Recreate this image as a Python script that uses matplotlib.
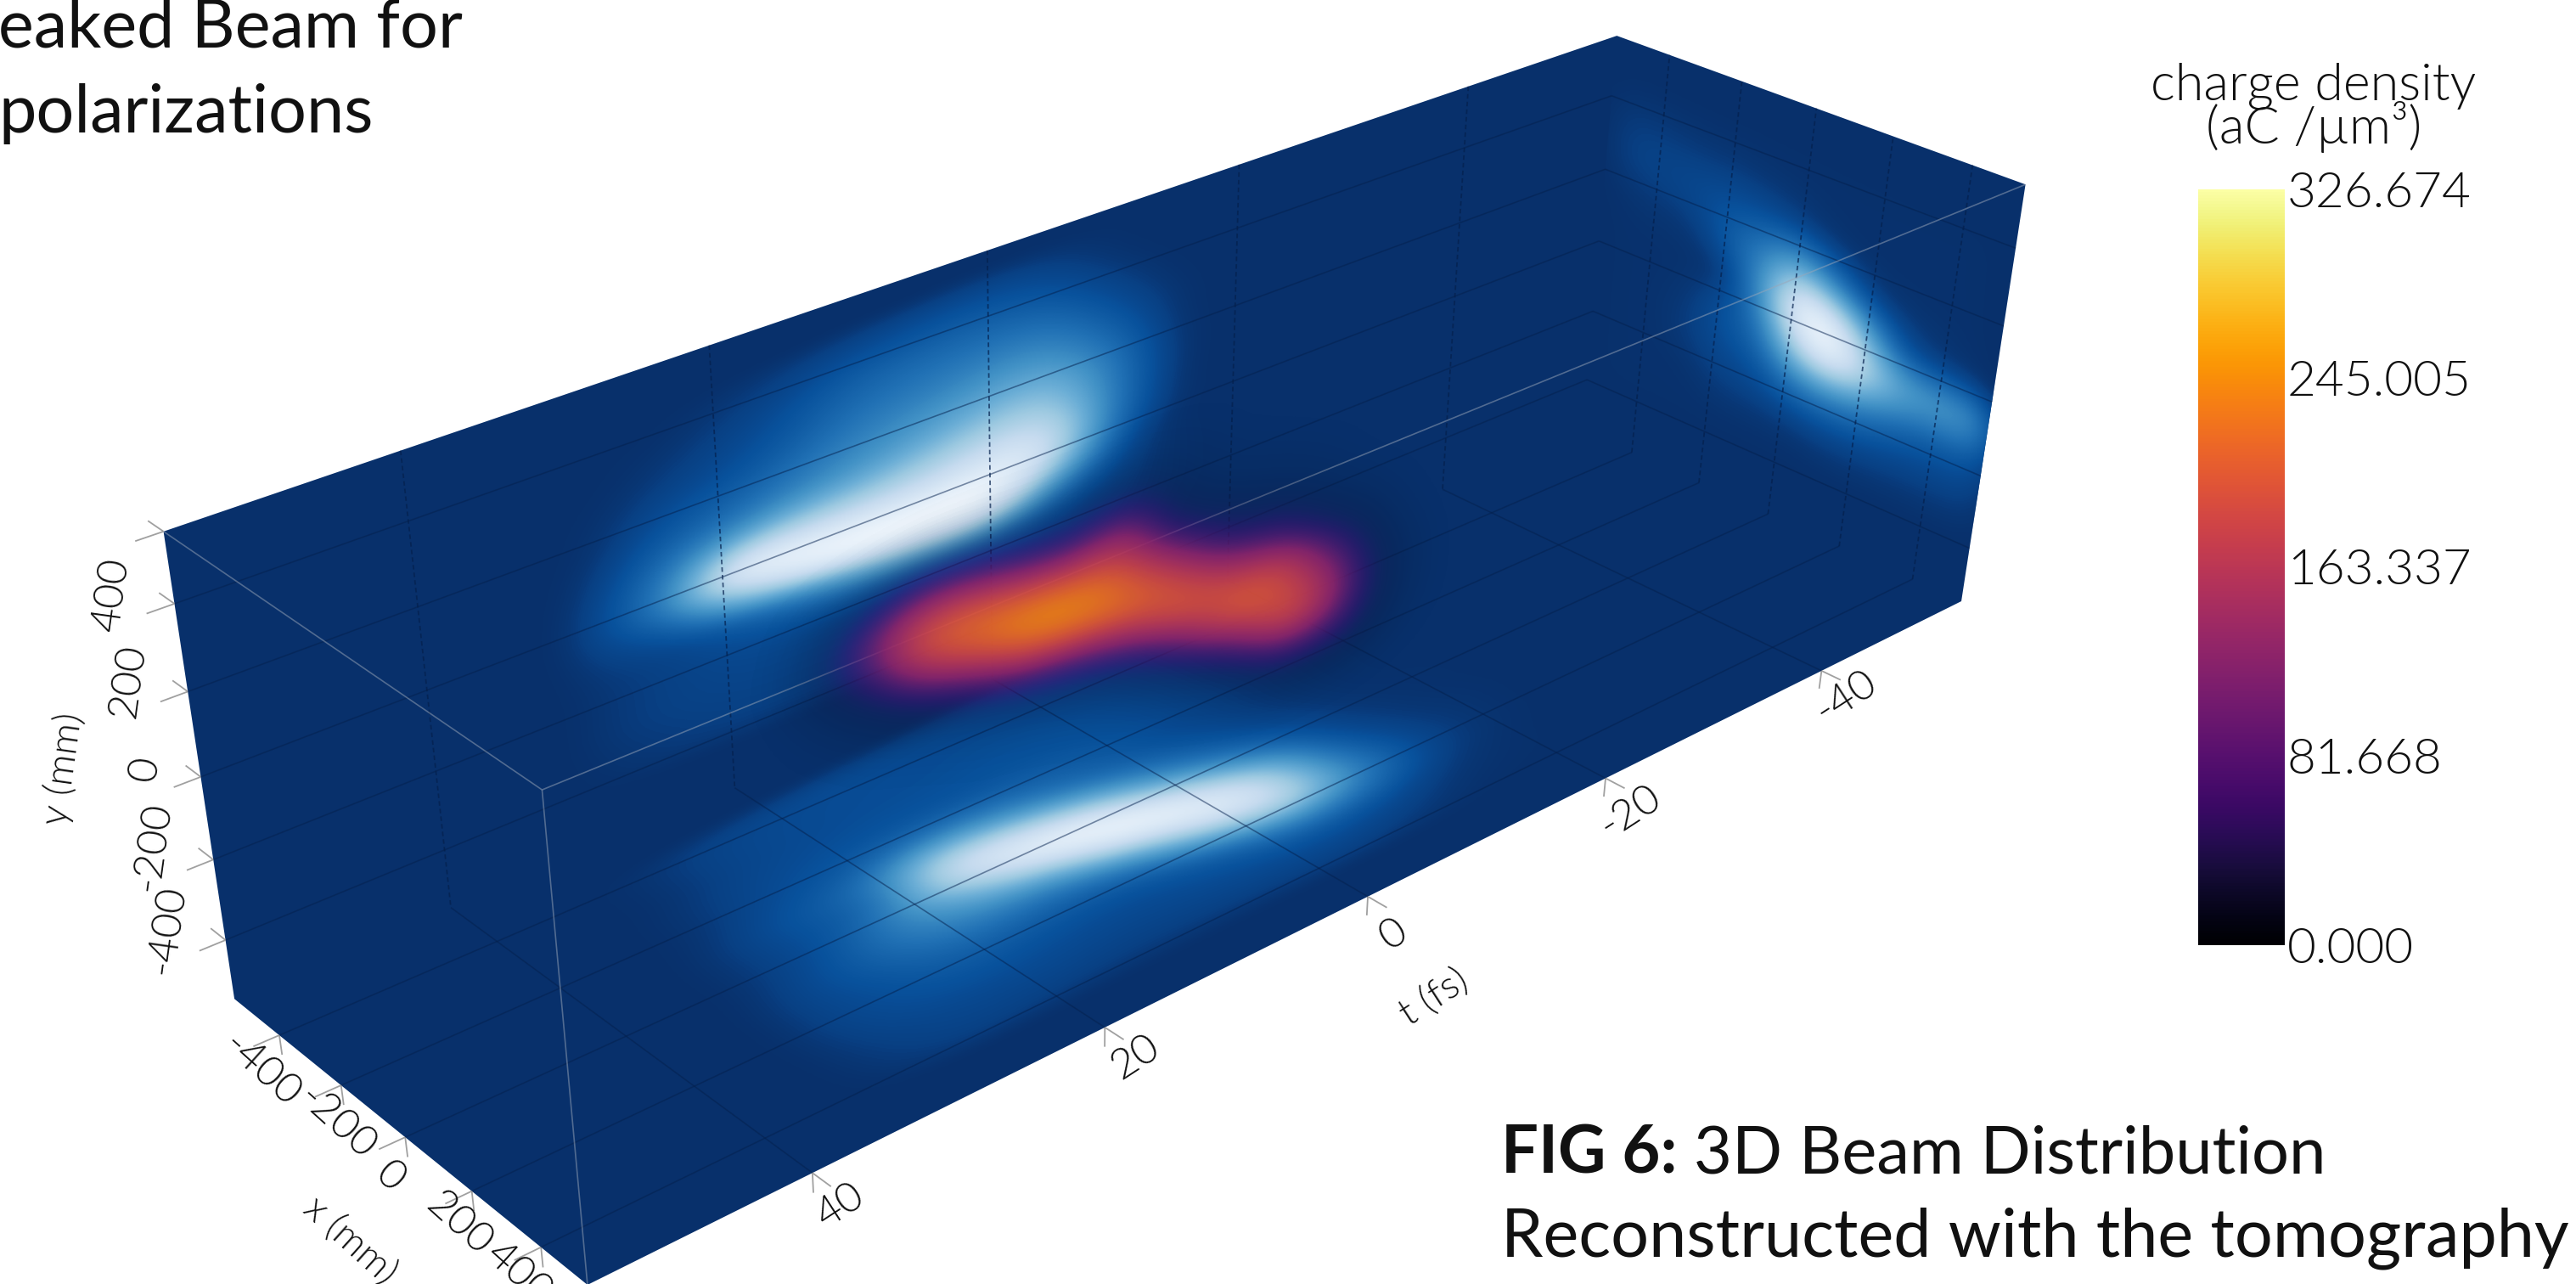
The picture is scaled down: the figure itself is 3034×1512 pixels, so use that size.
import numpy as np
import matplotlib
matplotlib.use("Agg")
import matplotlib.pyplot as plt
from matplotlib.colors import ListedColormap, Normalize
from matplotlib.cm import ScalarMappable
from matplotlib.patches import Polygon
from matplotlib.transforms import Affine2D

plt.rcParams['font.family'] = ['Lato', 'DejaVu Sans']

# axis bounds of the box and where its 8 corners land in the picture
t_near, t_far = 54, -54
x_back, x_front = -550, 530
y_top, y_bot = 560, -550
box_corners = [(t_near, x_back, y_top), (t_near, x_back, y_bot), (t_near, x_front, y_bot), (t_near, x_front, y_top),
               (t_far, x_back, y_top), (t_far, x_front, y_top), (t_far, x_front, y_bot), (t_far, x_back, y_bot)]
box_pixels = [(191, 625), (278, 1178), (690, 1512), (640, 930),
              (1905, 43), (2385, 217), (2311, 709), (1863, 505)]

t_ticks = [40, 20, 0, -20, -40]
x_ticks = [-400, -200, 0, 200, 400]
y_ticks = [400, 200, 0, -200, -400]

# charge projected on the back wall, 0 dark .. 1 white
back_t = [27, 22, 17, 12, 7, 2, -3, -8, -13, -18]
back_y = [400, 350, 300, 250, 200, 150, 100, 50, 0, -50, -100, -150, -200, -250, -300, -350, -400]
back_z = [[0.00, 0.01, 0.03, 0.05, 0.07, 0.08, 0.08, 0.06, 0.02, 0.00],
          [0.01, 0.02, 0.05, 0.08, 0.12, 0.13, 0.14, 0.11, 0.04, 0.00],
          [0.01, 0.04, 0.07, 0.11, 0.18, 0.20, 0.20, 0.17, 0.07, 0.01],
          [0.02, 0.06, 0.09, 0.14, 0.22, 0.25, 0.26, 0.25, 0.11, 0.02],
          [0.03, 0.09, 0.12, 0.18, 0.27, 0.30, 0.33, 0.34, 0.16, 0.03],
          [0.04, 0.13, 0.17, 0.24, 0.32, 0.37, 0.42, 0.44, 0.22, 0.03],
          [0.06, 0.18, 0.24, 0.32, 0.38, 0.45, 0.52, 0.55, 0.27, 0.03],
          [0.08, 0.25, 0.42, 0.50, 0.52, 0.58, 0.65, 0.66, 0.28, 0.03],
          [0.10, 0.30, 0.78, 0.76, 0.72, 0.72, 0.78, 0.78, 0.26, 0.02],
          [0.10, 0.30, 0.92, 0.95, 0.92, 0.88, 0.92, 0.82, 0.20, 0.02],
          [0.08, 0.16, 0.55, 0.85, 1.00, 1.00, 1.00, 0.65, 0.12, 0.01],
          [0.06, 0.08, 0.18, 0.32, 0.55, 0.72, 0.80, 0.30, 0.08, 0.02],
          [0.05, 0.07, 0.11, 0.14, 0.20, 0.24, 0.28, 0.13, 0.07, 0.02],
          [0.05, 0.07, 0.09, 0.09, 0.09, 0.10, 0.11, 0.09, 0.06, 0.02],
          [0.05, 0.07, 0.08, 0.08, 0.08, 0.08, 0.08, 0.07, 0.05, 0.01],
          [0.04, 0.06, 0.07, 0.07, 0.07, 0.07, 0.07, 0.06, 0.03, 0.01],
          [0.03, 0.05, 0.06, 0.06, 0.06, 0.06, 0.05, 0.04, 0.02, 0.00]]

# projected on the floor
floor_t = [30, 25, 20, 15, 10, 5, 0, -5, -10, -15, -20]
floor_x = [-400, -350, -300, -250, -200, -150, -100, -50, 0, 50, 100, 150, 200, 250, 300, 350, 400]
floor_z = [[0.03, 0.07, 0.09, 0.10, 0.10, 0.11, 0.10, 0.08, 0.04, 0.02, 0.00],
           [0.03, 0.08, 0.10, 0.11, 0.11, 0.11, 0.10, 0.08, 0.04, 0.02, 0.00],
           [0.03, 0.08, 0.10, 0.11, 0.11, 0.12, 0.11, 0.08, 0.04, 0.02, 0.01],
           [0.04, 0.09, 0.11, 0.12, 0.12, 0.13, 0.12, 0.09, 0.04, 0.02, 0.01],
           [0.04, 0.10, 0.13, 0.15, 0.14, 0.14, 0.13, 0.10, 0.04, 0.02, 0.01],
           [0.05, 0.12, 0.17, 0.28, 0.24, 0.18, 0.15, 0.10, 0.05, 0.02, 0.01],
           [0.06, 0.14, 0.22, 0.58, 0.45, 0.26, 0.16, 0.10, 0.05, 0.02, 0.01],
           [0.06, 0.13, 0.22, 0.78, 0.78, 0.52, 0.25, 0.13, 0.05, 0.02, 0.01],
           [0.06, 0.13, 0.30, 0.72, 0.92, 0.88, 0.46, 0.20, 0.07, 0.02, 0.01],
           [0.07, 0.15, 0.32, 0.50, 0.80, 1.00, 0.82, 0.40, 0.10, 0.03, 0.02],
           [0.08, 0.15, 0.28, 0.35, 0.45, 0.85, 0.95, 0.72, 0.15, 0.04, 0.02],
           [0.08, 0.13, 0.22, 0.24, 0.24, 0.45, 0.85, 0.85, 0.24, 0.05, 0.03],
           [0.08, 0.12, 0.17, 0.16, 0.15, 0.20, 0.48, 0.78, 0.31, 0.07, 0.03],
           [0.07, 0.11, 0.13, 0.12, 0.11, 0.12, 0.20, 0.42, 0.27, 0.07, 0.03],
           [0.06, 0.09, 0.10, 0.10, 0.09, 0.10, 0.12, 0.18, 0.14, 0.05, 0.02],
           [0.05, 0.08, 0.08, 0.08, 0.07, 0.08, 0.09, 0.10, 0.08, 0.03, 0.02],
           [0.03, 0.06, 0.06, 0.05, 0.05, 0.05, 0.06, 0.07, 0.05, 0.02, 0.01]]

# projected on the far end wall
end_x = [-500, -400, -300, -200, -100, 0, 100, 200, 300, 400, 500]
end_y = [450, 350, 250, 150, 50, -50, -150, -250, -350]
end_z = [[0.02, 0.02, 0.02, 0.02, 0.02, 0.02, 0.02, 0.02, 0.02, 0.02, 0.02],
         [0.06, 0.06, 0.05, 0.05, 0.04, 0.03, 0.02, 0.02, 0.02, 0.02, 0.02],
         [0.07, 0.08, 0.10, 0.12, 0.12, 0.09, 0.04, 0.02, 0.02, 0.02, 0.02],
         [0.03, 0.04, 0.05, 0.18, 0.32, 0.55, 0.30, 0.08, 0.04, 0.03, 0.02],
         [0.02, 0.02, 0.02, 0.02, 0.38, 1.00, 0.95, 0.50, 0.12, 0.06, 0.04],
         [0.02, 0.02, 0.04, 0.14, 0.24, 0.75, 1.00, 0.75, 0.50, 0.45, 0.45],
         [0.02, 0.02, 0.06, 0.10, 0.14, 0.30, 0.35, 0.28, 0.20, 0.16, 0.16],
         [0.02, 0.02, 0.02, 0.06, 0.06, 0.07, 0.09, 0.09, 0.08, 0.08, 0.08],
         [0.02, 0.02, 0.02, 0.02, 0.02, 0.02, 0.03, 0.03, 0.03, 0.03, 0.03]]

# the beam itself, charge density at x=0
beam_t = [25, 21, 17, 13, 9, 5, 1, -3, -7, -11, -15, -19]
beam_y = [310, 245, 180, 115, 50, -15, -80, -145, -210, -275, -340, -405, -470]
beam_z = [[2, 5, 8, 6, 4, 3, 3, 2, 1, 0, 0, 0],
          [8, 18, 30, 22, 15, 12, 15, 8, 2, 0, 0, 0],
          [18, 60, 100, 80, 50, 40, 55, 18, 5, 2, 0, 0],
          [30, 110, 175, 170, 125, 100, 125, 30, 10, 6, 2, 0],
          [22, 100, 200, 225, 215, 190, 175, 70, 30, 15, 5, 0],
          [10, 55, 145, 205, 250, 250, 215, 140, 60, 45, 12, 2],
          [4, 20, 65, 120, 190, 215, 225, 200, 130, 100, 35, 5],
          [1, 6, 20, 45, 85, 110, 150, 210, 195, 180, 85, 10],
          [0, 2, 5, 12, 25, 40, 60, 125, 210, 205, 130, 18],
          [0, 0, 1, 3, 6, 10, 20, 50, 115, 205, 135, 20],
          [0, 0, 0, 1, 1, 3, 6, 15, 40, 115, 95, 14],
          [0, 0, 0, 0, 0, 1, 1, 4, 10, 35, 35, 6],
          [0, 0, 0, 0, 0, 0, 0, 1, 2, 6, 6, 1]]

cbar_ticks = [0.000, 81.668, 163.337, 245.005, 326.674]


# projective camera fitted on the corners
def fit_camera(points, pixels):
    rows, rhs = [], []
    for (t, x, y), (u, v) in zip(points, pixels):
        p = [t / 54, x / 550, y / 550, 1]
        rows.append(p + [0, 0, 0, 0] + [-u * c for c in p[:3]])
        rows.append([0, 0, 0, 0] + p + [-v * c for c in p[:3]])
        rhs += [u, v]
    sol = np.linalg.lstsq(np.array(rows, float), np.array(rhs, float), rcond=None)[0]
    return np.append(sol, 1).reshape(3, 4)


camera = fit_camera(box_corners, box_pixels)


def project(t, x, y):
    q = camera @ np.array([t / 54, x / 550, y / 550, 1])
    return q[:2] / q[2]


def alpha_cmap(name, full, top=1.0):
    colors = plt.get_cmap(name)(np.linspace(0, 1, 256))
    colors[:, 3] = np.clip(np.linspace(0, 1, 256) / full, 0, 1) * top
    return ListedColormap(colors)


def draw_field(ax, z, u, v, to_3d, clip, cmap, norm, zorder):
    # z[row, col] with col along u and row along v; padded so the frame edge is invisible
    z = np.pad(np.array(z, float)[::-1], 1)
    du, dv = u[1] - u[0], v[1] - v[0]
    u0, u1 = u[0] - 1.5 * du, u[-1] + 1.5 * du
    v0, v1 = v[-1] + 1.5 * dv, v[0] - 1.5 * dv
    p0, pu, pv = to_3d(u0, v0), to_3d(u1, v0), to_3d(u0, v1)
    im = ax.imshow(z, extent=[0, 1, 0, 1], origin="lower", cmap=cmap, norm=norm,
                   interpolation="bicubic", interpolation_stage="data", aspect="auto", zorder=zorder)
    a, b = pu - p0, pv - p0
    im.set_transform(Affine2D.from_values(a[0], a[1], b[0], b[1], p0[0], p0[1]) + ax.transData)
    im.set_clip_path(Polygon(clip, transform=ax.transData))


def line3d(ax, a, b, **kw):
    p, q = project(*a), project(*b)
    ax.plot([p[0], q[0]], [p[1], q[1]], solid_capstyle="butt", **kw)


fig = plt.figure(figsize=(30.34, 15.12), dpi=100)
ax = fig.add_axes([0, 0, 1, 1])

A, B, C, D = [project(*c) for c in box_corners[:4]]
E, F, G, H = [project(*c) for c in box_corners[4:]]

ax.add_patch(Polygon([A, E, F, G, C, B], closed=True, fc=plt.get_cmap("Blues_r")(0.0), ec="none", zorder=1))

blues = alpha_cmap("Blues_r", 0.06)
unit = Normalize(0, 1)
draw_field(ax, back_z, back_t, back_y, lambda a, b: project(a, x_back, b), [A, E, H, B], blues, unit, 2)
draw_field(ax, floor_z, floor_t, floor_x, lambda a, b: project(a, b, y_bot), [B, H, G, C], blues, unit, 2)
draw_field(ax, end_z, end_x, end_y, lambda a, b: project(t_far, a, b), [E, F, G, H], blues, unit, 2)

# grid on the three visible walls
dark = dict(color="#04204d", lw=1.2, alpha=0.5, zorder=3)
dash = dict(color="#04204d", lw=1.3, alpha=0.7, zorder=3, dashes=(3, 2))
for t in t_ticks:
    line3d(ax, (t, x_back, y_top), (t, x_back, y_bot), **dash)
    line3d(ax, (t, x_back, y_bot), (t, x_front, y_bot), **dark)
for y in y_ticks:
    line3d(ax, (t_near, x_back, y), (t_far, x_back, y), **dark)
    line3d(ax, (t_far, x_back, y), (t_far, x_front, y), **dark)
for x in x_ticks:
    line3d(ax, (t_near, x, y_bot), (t_far, x, y_bot), **dark)
    line3d(ax, (t_far, x, y_bot), (t_far, x, y_top), **dash)

# front edges of the box
edge = dict(color="#9aa6b8", lw=1.2, alpha=0.5, zorder=4)
line3d(ax, box_corners[0], box_corners[3], **edge)
line3d(ax, box_corners[3], box_corners[5], **edge)
line3d(ax, box_corners[3], box_corners[2], **edge)

# beam volume
draw_field(ax, beam_z, beam_t, beam_y, lambda a, b: project(a, 0, b), [A, E, F, G, C, B],
           alpha_cmap("inferno", 0.38, 0.92), Normalize(0, cbar_ticks[-1]), 5)

# ticks: two short strokes out of the box
tick = dict(color="#a0a0a0", lw=1.3, zorder=1)
for y in y_ticks + [y_top]:
    line3d(ax, (t_near, x_back, y), (t_near + 1.6, x_back, y), **tick)
    line3d(ax, (t_near, x_back, y), (t_near, x_back - 50, y), **tick)
for x in x_ticks:
    line3d(ax, (t_near, x, y_bot), (t_near + 1.6, x, y_bot), **tick)
    line3d(ax, (t_near, x, y_bot), (t_near, x, y_bot - 50), **tick)
for t in t_ticks:
    line3d(ax, (t, x_front, y_bot), (t, x_front + 50, y_bot), **tick)
    line3d(ax, (t, x_front, y_bot), (t, x_front, y_bot - 50), **tick)

lab = dict(fontsize=36, fontweight=300, color="#111111", ha="center", va="center",
           textcoords="offset pixels", annotation_clip=False)
for y, off in zip(y_ticks, [(-74, 11), (-70, 12), (-66, 9), (-72, 15), (-69, 12)]):
    ax.annotate(str(y), project(t_near, x_back, y), xytext=off, rotation=82, **lab)
for x, off in zip(x_ticks, [(-21, -41), (-5, -44), (-18, -47), (-15, -38), (-26, -31)]):
    ax.annotate(str(x), project(t_near, x, y_bot), xytext=off, rotation=-42, **lab)
for t, off in zip(t_ticks, [(33, -39), (36, -35), (30, -45), (29, -39), (29, -31)]):
    ax.annotate(str(t), project(t, x_front, y_bot), xytext=off, rotation=33, **lab)

axis_lab = dict(fontsize=33, fontweight=300, color="#111111", ha="center", va="center")
ax.text(74, 905, "y (mm)", rotation=82, **axis_lab)
ax.text(412, 1461, "x (mm)", rotation=-42, **axis_lab)
ax.text(1689, 1175, "t (fs)", rotation=33, **axis_lab)

# colour bar
cax = fig.add_axes([2589 / 3034, 1 - 1113 / 1512, 102 / 3034, 890 / 1512])
cb = fig.colorbar(ScalarMappable(Normalize(0, cbar_ticks[-1]), "inferno"), cax=cax,
                  ticks=cbar_ticks, format="%.3f")
cb.outline.set_visible(False)
cax.tick_params(length=0, pad=2, labelsize=42, labelcolor="#111111")
for l in cax.get_yticklabels():
    l.set_fontweight(300)
ax.text(2725, 127, "charge density\n(aC /µm³)", fontsize=44, fontweight=300, color="#111111",
        ha="center", va="center", linespacing=0.8)

# slide text around the figure
ax.text(-2, 34, "eaked Beam for", fontsize=57, color="#111111", va="center", ha="left")
ax.text(-2, 134, "polarizations", fontsize=57, color="#111111", va="center", ha="left")
fig_lab = ax.text(1768, 1360, "FIG 6:", fontsize=56, fontweight="bold", color="#111111", va="center", ha="left")
ax.annotate(" 3D Beam Distribution", xy=(1, 0), xycoords=fig_lab, fontsize=56, color="#111111", va="bottom", ha="left")
ax.text(1768, 1458, "Reconstructed with the tomography", fontsize=57, color="#111111", va="center", ha="left")

ax.set_xlim(0, 3034)
ax.set_ylim(1512, 0)
ax.axis("off")
fig.savefig("out.png", dpi=100)
